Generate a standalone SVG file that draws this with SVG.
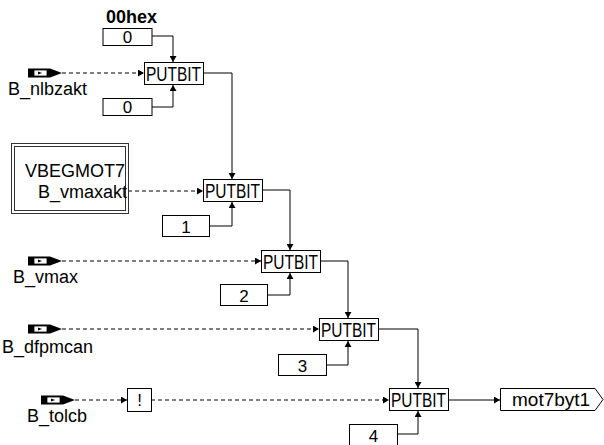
<svg xmlns="http://www.w3.org/2000/svg" width="604" height="445" viewBox="0 0 604 445">
<style>
  .box{fill:#fff;stroke:#000;stroke-width:1}
  .ln{fill:none;stroke:#000;stroke-width:1}
  .dash{fill:none;stroke:#000;stroke-width:1;stroke-dasharray:4,3}
  .t{font-family:"Liberation Sans",Arial,sans-serif;font-size:18px;fill:#000}
  .pb{font-family:"Liberation Sans",Arial,sans-serif;font-size:20px;fill:#000}
  .num{font-family:"Liberation Sans",Arial,sans-serif;font-size:17px;fill:#000;text-anchor:middle}
</style>
<defs>
  <marker id="ah" markerWidth="7" markerHeight="7" refX="6" refY="3.5" orient="auto" markerUnits="userSpaceOnUse">
    <path d="M0,0 L6,3.5 L0,7 Z" fill="#000"/>
  </marker>
  <g id="icon">
    <rect x="0" y="0" width="22" height="9" fill="#000"/>
    <rect x="6" y="1.5" width="13" height="6" fill="#fff" stroke="#000" stroke-width="0.8"/>
    <path d="M10,3 L14,4.5 L10,6 Z" fill="#000"/>
    <path d="M22,0 L34,4.5 L22,9 Z" fill="#000"/>
  </g>
</defs>

<g id="connectors">
  <path class="dash" d="M62,73 H144" marker-end="url(#ah)"/>
  <path class="dash" d="M128,191 H203" marker-end="url(#ah)"/>
  <path class="dash" d="M62,261 H261" marker-end="url(#ah)"/>
  <path class="dash" d="M62,329 H319" marker-end="url(#ah)"/>
  <path class="dash" d="M75,400 H127" marker-end="url(#ah)"/>
  <path class="dash" d="M151,400 H389" marker-end="url(#ah)"/>
  <path class="ln" d="M152,36 H173 V62" marker-end="url(#ah)"/>
  <path class="ln" d="M152,107 H173 V85" marker-end="url(#ah)"/>
  <path class="ln" d="M209,226 H232 V202" marker-end="url(#ah)"/>
  <path class="ln" d="M267,295 H290 V273" marker-end="url(#ah)"/>
  <path class="ln" d="M326,365 H348 V341" marker-end="url(#ah)"/>
  <path class="ln" d="M397,434 H418 V411" marker-end="url(#ah)"/>
  <path class="ln" d="M203,73 H232 V179" marker-end="url(#ah)"/>
  <path class="ln" d="M262,190 H290 V250" marker-end="url(#ah)"/>
  <path class="ln" d="M320,261 H348 V318" marker-end="url(#ah)"/>
  <path class="ln" d="M378,329 H418 V388" marker-end="url(#ah)"/>
  <path class="ln" d="M448,400 H500" marker-end="url(#ah)"/>
</g>

<g id="hex">
  <text x="106" y="23" font-family="Liberation Sans,Arial,sans-serif" font-size="18" font-weight="bold">00hex</text>
</g>
<g id="c0a"><rect class="box" x="103" y="28.5" width="49" height="17"/><text class="num" x="127.5" y="43">0</text></g>
<g id="c0b"><rect class="box" x="103" y="98.5" width="49" height="17"/><text class="num" x="127.5" y="113">0</text></g>
<g id="c1"><rect class="box" x="162.5" y="215.5" width="47" height="21"/><text class="num" x="186" y="232.5">1</text></g>
<g id="c2"><rect class="box" x="220.5" y="284.5" width="47" height="21"/><text class="num" x="244" y="301.5">2</text></g>
<g id="c3"><rect class="box" x="278.5" y="354.5" width="48" height="21"/><text class="num" x="302.5" y="371.5">3</text></g>
<g id="c4"><rect class="box" x="349.5" y="424.5" width="48" height="21"/><text class="num" x="373.5" y="441.5">4</text></g>

<g id="in1"><use href="#icon" x="28" y="68.5"/><text class="t" x="8" y="95">B_nlbzakt</text></g>
<g id="in2">
  <rect x="11.5" y="143.5" width="117" height="70" fill="#fff" stroke="#333"/>
  <rect x="14.5" y="146.5" width="111" height="64" fill="none" stroke="#333"/>
  <text class="t" x="125" y="177" text-anchor="end">VBEGMOT7</text>
  <text class="t" x="127" y="198" text-anchor="end">B_vmaxakt</text>
</g>
<g id="in3"><use href="#icon" x="28" y="256.5"/><text class="t" x="13" y="283">B_vmax</text></g>
<g id="in4"><use href="#icon" x="28" y="324.5"/><text class="t" x="2" y="353">B_dfpmcan</text></g>
<g id="in5"><use href="#icon" x="41" y="395.5"/><text class="t" x="27" y="422">B_tolcb</text></g>
<g id="not"><rect class="box" x="127.5" y="388.5" width="24" height="23"/><text class="num" x="139.5" y="406">!</text></g>

<g id="pb1"><rect class="box" x="144.5" y="62.5" width="59" height="22"/><text class="pb" x="146" y="81" textLength="55" lengthAdjust="spacingAndGlyphs">PUTBIT</text></g>
<g id="pb2"><rect class="box" x="203.5" y="179.5" width="59" height="22"/><text class="pb" x="205" y="198" textLength="55" lengthAdjust="spacingAndGlyphs">PUTBIT</text></g>
<g id="pb3"><rect class="box" x="261.5" y="250.5" width="59" height="22"/><text class="pb" x="263" y="269" textLength="55" lengthAdjust="spacingAndGlyphs">PUTBIT</text></g>
<g id="pb4"><rect class="box" x="319.5" y="318.5" width="59" height="22"/><text class="pb" x="321" y="337" textLength="55" lengthAdjust="spacingAndGlyphs">PUTBIT</text></g>
<g id="pb5"><rect class="box" x="389.5" y="388.5" width="59" height="22"/><text class="pb" x="391" y="407" textLength="55" lengthAdjust="spacingAndGlyphs">PUTBIT</text></g>

<g id="out"><path class="box" d="M500.5,388.5 H595 L603,399.5 L595,410.5 H500.5 Z"/><text x="512" y="406" font-family="Liberation Sans,Arial,sans-serif" font-size="19">mot7byt1</text></g>
</svg>
